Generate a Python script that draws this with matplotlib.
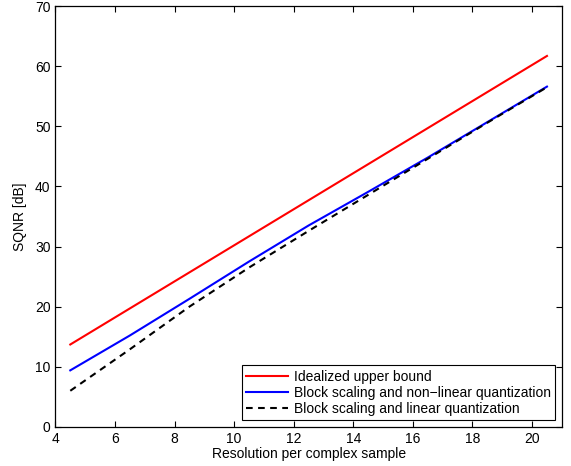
import matplotlib
matplotlib.use("Agg")
import matplotlib.pyplot as plt

plt.rcParams['font.family'] = ['Liberation Sans', 'DejaVu Sans']

# resolution per complex sample
resolution = [4.5, 6.5, 8.5, 10.5, 12.5, 14.5, 16.5, 18.5, 20.5]
upper_bound = [13.7, 19.7, 25.7, 31.7, 37.7, 43.7, 49.7, 55.7, 61.7]
nonlinear_q = [9.4, 15.2, 21.3, 27.5, 33.5, 39.1, 44.8, 50.7, 56.6]
linear_q = [6.0, 12.9, 20.0, 26.5, 32.6, 38.6, 44.6, 50.6, 56.5]

xticks = [4, 6, 8, 10, 12, 14, 16, 18, 20]
yticks = [0, 10, 20, 30, 40, 50, 60, 70]

fig = plt.figure(figsize=(5.71, 4.66), dpi=100)
ax = fig.add_axes([0.097, 0.084, 0.887, 0.903])

ax.plot(resolution, upper_bound, color='#ff0000', lw=1.5, label='Idealized upper bound')
ax.plot(resolution, nonlinear_q, color='#0000ff', lw=1.5,
        label='Block scaling and non\u2212linear quantization')
ax.plot(resolution, linear_q, color='k', lw=1.5, dashes=(3.2, 2.6),
        label='Block scaling and linear quantization')

ax.set_xlim(4, 21)
ax.set_ylim(0, 70)
ax.set_xticks(xticks)
ax.set_yticks(yticks)
ax.tick_params(direction='in', top=True, right=True, length=4, labelsize=10, width=0.8)
for s in ax.spines.values():
    s.set_linewidth(0.9)

ax.set_xlabel('Resolution per complex sample', fontsize=10, labelpad=1)
ax.set_ylabel('SQNR [dB]', fontsize=10, labelpad=6)

leg = ax.legend(loc='lower right', fontsize=10, fancybox=False, edgecolor='k',
                framealpha=1, handlelength=3.0, borderaxespad=0.5,
                labelspacing=0.15, borderpad=0.3, handletextpad=0.45)
leg.get_frame().set_linewidth(0.8)

fig.savefig('out.png', dpi=100)
